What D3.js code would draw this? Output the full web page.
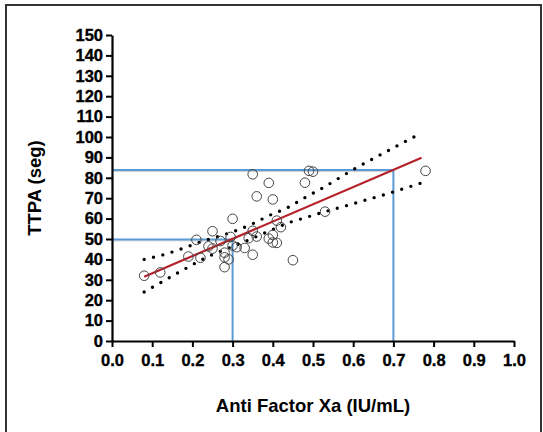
<!DOCTYPE html>
<html>
<head>
<meta charset="utf-8">
<script src="https://cdn.jsdelivr.net/npm/d3@7"></script>
<style>
  body { margin: 0; background: #fff; }
  svg { font-family: "Liberation Sans", Arial, sans-serif; }
</style>
</head>
<body>
<div id="chart"></div>
<script>
// measured points
const antiXa = [0.08, 0.12, 0.19, 0.21, 0.22, 0.24, 0.25, 0.25, 0.27, 0.28, 0.28, 0.28, 0.29, 0.295, 0.30, 0.30, 0.31, 0.33, 0.34, 0.35, 0.35, 0.35, 0.36, 0.36, 0.39, 0.39, 0.40, 0.40, 0.40, 0.41, 0.41, 0.42, 0.45, 0.48, 0.49, 0.50, 0.53, 0.78];
const ttpa = [32, 33.6, 41.4, 49.6, 40.8, 46.4, 53.8, 45.3, 49, 43.3, 41, 36.2, 40, 51, 59.9, 46.8, 46, 45.6, 50.4, 54, 42.3, 81.7, 70.9, 51.2, 77.5, 50.2, 69.4, 52, 48.3, 48.1, 59, 55.8, 39.6, 77.6, 83.4, 83, 63.4, 83.4];

// regression line
const fitX = [0.08, 0.77];
const fitY = [31.5, 89.8];

// confidence band
const bandX = [0.08, 0.13, 0.18, 0.225, 0.27, 0.30, 0.35, 0.39, 0.44, 0.48, 0.52, 0.60, 0.70, 0.77];
const bandUpper = [40, 42.4, 45.7, 48.9, 51.6, 53.5, 57.5, 61.4, 65.7, 70.3, 74.6, 84, 94.7, 102];
const bandLower = [24, 29.6, 35.2, 40, 44, 46.3, 50.4, 53.8, 58, 60.4, 62.8, 67.3, 73.1, 77.5];

// reference lines
const refX = [0.3, 0.7];
const refY = [49.8, 83.8];

const xTicks = [0, 0.1, 0.2, 0.3, 0.4, 0.5, 0.6, 0.7, 0.8, 0.9, 1.0];
const yTicks = [0, 10, 20, 30, 40, 50, 60, 70, 80, 90, 100, 110, 120, 130, 140, 150];

var width = 543, height = 432;
var svg = d3.select("#chart").append("svg")
    .attr("width", width)
    .attr("height", height);

// frame
svg.append("rect")
    .attr("x", 6).attr("y", 5)
    .attr("width", 535).attr("height", 440)
    .attr("fill", "none")
    .attr("stroke", "#333")
    .attr("stroke-width", 2);

var x = d3.scaleLinear().domain([0, 1]).range([112, 514]);
var y = d3.scaleLinear().domain([0, 150]).range([341, 35]);

// blue reference lines
refX.forEach((rx, i) => {
    var g = svg.append("g");
    g.append("line")
        .attr("x1", x(0)).attr("x2", x(rx))
        .attr("y1", y(refY[i]) + 1.5).attr("y2", y(refY[i]) + 1.5)
        .attr("stroke", "#d0d0d0").attr("stroke-width", 1);
    g.append("polyline")
        .attr("points", [[x(0), y(refY[i])], [x(rx), y(refY[i])], [x(rx), y(0)]].join(" "))
        .attr("fill", "none")
        .attr("stroke", "#5b9bd5")
        .attr("stroke-width", 2);
});

// dotted band
var band = d3.line()
    .x((d, i) => x(bandX[i]))
    .y(d => y(d))
    .curve(d3.curveMonotoneX);
[bandUpper, bandLower].forEach(b => {
    svg.append("path")
        .attr("d", band(b))
        .attr("fill", "none")
        .attr("stroke", "#000")
        .attr("stroke-width", 3.4)
        .attr("stroke-linecap", "round")
        .attr("stroke-dasharray", "0,9.6");
});

// regression line
svg.append("line")
    .attr("x1", x(fitX[0])).attr("y1", y(fitY[0]))
    .attr("x2", x(fitX[1])).attr("y2", y(fitY[1]))
    .attr("stroke", "#b5222a")
    .attr("stroke-width", 2.2);

// points
svg.append("g")
    .selectAll("circle")
    .data(antiXa)
    .enter()
    .append("circle")
    .attr("cx", d => x(d))
    .attr("cy", (d, i) => y(ttpa[i]))
    .attr("r", 4.8)
    .attr("fill", "none")
    .attr("stroke", "#444")
    .attr("stroke-width", 1);

// axes
var xAxis = svg.append("g")
    .attr("transform", "translate(0," + y(0) + ")")
    .call(d3.axisBottom(x).tickValues(xTicks).tickFormat(d3.format(".1f")).tickSize(6).tickSizeOuter(0).tickPadding(7));
var yAxis = svg.append("g")
    .attr("transform", "translate(" + x(0) + ",0)")
    .call(d3.axisLeft(y).tickValues(yTicks).tickSize(6).tickSizeOuter(0).tickPadding(3));
[xAxis, yAxis].forEach(a => {
    a.select(".domain").attr("stroke", "#000").attr("stroke-width", 2.2);
    a.selectAll(".tick line").attr("stroke", "#000").attr("stroke-width", 2);
    a.selectAll("text")
        .attr("fill", "#000")
        .attr("stroke", "#000")
        .attr("stroke-width", 0.35)
        .style("font-size", "16.5px")
        .style("font-weight", "bold")
        .style("font-family", "'Liberation Sans', Arial, sans-serif");
});

// titles
svg.append("text")
    .attr("x", x(0.5)).attr("y", 412)
    .attr("text-anchor", "middle")
    .style("font-size", "18.5px")
    .style("font-weight", "bold")
    .text("Anti Factor Xa (IU/mL)");
svg.append("text")
    .attr("transform", "translate(41," + (y(75)) + ")rotate(-90)")
    .attr("text-anchor", "middle")
    .style("font-size", "18.5px")
    .style("font-weight", "bold")
    .text("TTPA (seg)");
</script>
</body>
</html>
